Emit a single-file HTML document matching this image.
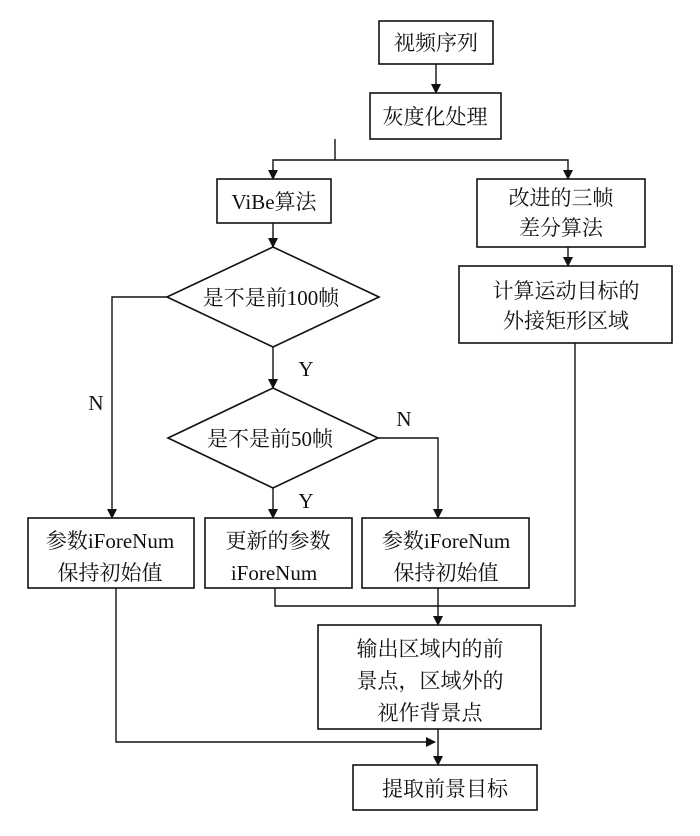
<!DOCTYPE html>
<html><head><meta charset="utf-8"><style>
html,body{margin:0;padding:0;background:#fff;}
svg text{font-family:"Liberation Serif","Noto Serif CJK SC",serif;font-size:21px;fill:#111;text-anchor:middle;}
</style></head><body>
<svg width="700" height="831" viewBox="0 0 700 831" xmlns="http://www.w3.org/2000/svg">
<defs><marker id="a" markerWidth="10" markerHeight="12" refX="9" refY="6" orient="auto" markerUnits="userSpaceOnUse"><path d="M0,1 L10,6 L0,11 Z" fill="#111"/></marker></defs>
<g fill="none" stroke="#111" stroke-width="1.6">
<rect x="379" y="21" width="114" height="43"/>
<rect x="370" y="93" width="131" height="46"/>
<rect x="217" y="179" width="114" height="44"/>
<rect x="477" y="179" width="168" height="68"/>
<rect x="459" y="266" width="213" height="77"/>
<polygon points="167,297 273,247 379,297 273,347"/>
<polygon points="168,438 273,388 378,438 273,488"/>
<rect x="28" y="518" width="166" height="70"/>
<rect x="205" y="518" width="147" height="70"/>
<rect x="362" y="518" width="167" height="70"/>
<rect x="318" y="625" width="223" height="104"/>
<rect x="353" y="765" width="184" height="45"/>
</g>
<g fill="none" stroke="#111" stroke-width="1.4">
<line x1="436" y1="64" x2="436" y2="93" marker-end="url(#a)"/>
<polyline points="335,139 335,160 273,160 273,179" marker-end="url(#a)"/>
<polyline points="335,160 568,160 568,179" marker-end="url(#a)"/>
<line x1="273" y1="223" x2="273" y2="247" marker-end="url(#a)"/>
<line x1="568" y1="247" x2="568" y2="266" marker-end="url(#a)"/>
<line x1="273" y1="347" x2="273" y2="388" marker-end="url(#a)"/>
<polyline points="167,297 112,297 112,518" marker-end="url(#a)"/>
<line x1="273" y1="488" x2="273" y2="518" marker-end="url(#a)"/>
<polyline points="378,438 438,438 438,518" marker-end="url(#a)"/>
<polyline points="575,343 575,606 275,606 275,588"/>
<line x1="438" y1="588" x2="438" y2="625" marker-end="url(#a)"/>
<polyline points="116,588 116,742 435,742" marker-end="url(#a)"/>
<line x1="438" y1="729" x2="438" y2="765" marker-end="url(#a)"/>
</g>
<text x="436" y="50">视频序列</text>
<text x="435" y="124">灰度化处理</text>
<text x="274" y="209">ViBe算法</text>
<text x="561" y="205">改进的三帧</text>
<text x="561" y="235">差分算法</text>
<text x="566" y="298">计算运动目标的</text>
<text x="566" y="328">外接矩形区域</text>
<text x="271" y="305">是不是前100帧</text>
<text x="270" y="446">是不是前50帧</text>
<text x="306" y="376">Y</text>
<text x="96" y="410">N</text>
<text x="404" y="426">N</text>
<text x="306" y="508">Y</text>
<text x="110" y="548">参数iForeNum</text>
<text x="110" y="580">保持初始值</text>
<text x="278" y="548">更新的参数</text>
<text x="274" y="580">iForeNum</text>
<text x="446" y="548">参数iForeNum</text>
<text x="446" y="580">保持初始值</text>
<text x="430" y="656">输出区域内的前</text>
<text x="430" y="688">景点，区域外的</text>
<text x="430" y="720">视作背景点</text>
<text x="445" y="796">提取前景目标</text>
</svg>
</body></html>
